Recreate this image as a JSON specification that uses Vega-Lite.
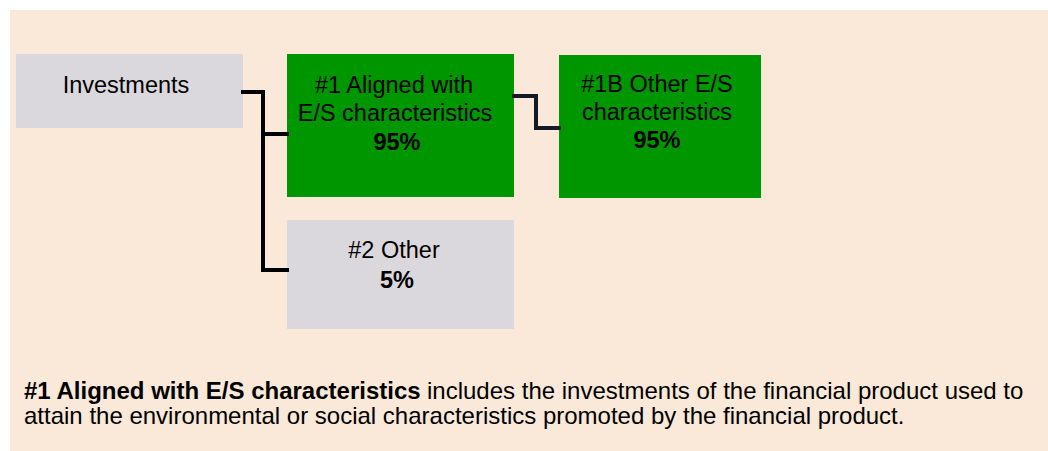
{
  "$schema": "https://vega.github.io/schema/vega-lite/v6.json",
  "width": 1048,
  "height": 451,
  "autosize": {"type": "none"},
  "padding": 0,
  "background": "#ffffff",
  "config": {"view": {"stroke": null}},
  "datasets": {
    "panel": [{"x1": 10, "x2": 1048, "y1": 10, "y2": 451}],
    "boxes": [
      {"box": "Investments", "kind": "other", "x1": 16, "x2": 243, "y1": 54, "y2": 128},
      {"box": "#1 Aligned", "kind": "aligned", "x1": 287, "x2": 514, "y1": 54, "y2": 197},
      {"box": "#1B Other E/S", "kind": "aligned", "x1": 559, "x2": 761, "y1": 55, "y2": 198},
      {"box": "#2 Other", "kind": "other", "x1": 287, "x2": 514, "y1": 220, "y2": 329}
    ],
    "links": [
      {"link": "a", "x1": 243, "y1": 92, "x2": 263, "y2": 92},
      {"link": "a", "x1": 263, "y1": 92, "x2": 263, "y2": 270},
      {"link": "a", "x1": 263, "y1": 134, "x2": 287, "y2": 134},
      {"link": "a", "x1": 263, "y1": 270, "x2": 287, "y2": 270},
      {"link": "b", "x1": 514, "y1": 96, "x2": 536, "y2": 96},
      {"link": "b", "x1": 536, "y1": 96, "x2": 536, "y2": 128},
      {"link": "b", "x1": 536, "y1": 128, "x2": 559, "y2": 128}
    ],
    "labels": [
      {"text": "Investments", "x": 126, "y": 86, "weight": "normal"},
      {"text": "#1 Aligned with", "x": 394, "y": 86, "weight": "normal"},
      {"text": "E/S characteristics", "x": 395, "y": 114, "weight": "normal"},
      {"text": "95%", "x": 397, "y": 143, "weight": "bold"},
      {"text": "#1B Other E/S", "x": 657, "y": 85, "weight": "normal"},
      {"text": "characteristics", "x": 657, "y": 113, "weight": "normal"},
      {"text": "95%", "x": 657, "y": 141, "weight": "bold"},
      {"text": "#2 Other", "x": 394, "y": 251, "weight": "normal"},
      {"text": "5%", "x": 397, "y": 281, "weight": "bold"}
    ],
    "note": [
      {"text": "#1 Aligned with E/S characteristics", "x": 24, "y": 392, "weight": "bold"},
      {"text": "includes the investments of the financial product used to", "x": 427, "y": 392, "weight": "normal"},
      {"text": "attain the environmental or social characteristics promoted by the financial product.", "x": 24, "y": 417, "weight": "normal"}
    ]
  },
  "layer": [
    {
      "data": {"name": "panel"},
      "mark": {"type": "rect", "color": "#FAE8D8"},
      "encoding": {
        "x": {"field": "x1", "type": "quantitative", "scale": {"domain": [0, 1048], "nice": false, "zero": false}, "axis": null},
        "x2": {"field": "x2"},
        "y": {"field": "y1", "type": "quantitative", "scale": {"domain": [0, 451], "nice": false, "zero": false, "reverse": true}, "axis": null},
        "y2": {"field": "y2"}
      }
    },
    {
      "data": {"name": "boxes"},
      "mark": {"type": "rect"},
      "encoding": {
        "x": {"field": "x1", "type": "quantitative"},
        "x2": {"field": "x2"},
        "y": {"field": "y1", "type": "quantitative"},
        "y2": {"field": "y2"},
        "color": {"field": "kind", "type": "nominal", "scale": {"domain": ["other", "aligned"], "range": ["#DBD8DD", "#009600"]}, "legend": null}
      }
    },
    {
      "data": {"name": "links"},
      "mark": {"type": "rule", "strokeWidth": 4, "strokeCap": "square"},
      "encoding": {
        "x": {"field": "x1", "type": "quantitative"},
        "x2": {"field": "x2"},
        "y": {"field": "y1", "type": "quantitative"},
        "y2": {"field": "y2"},
        "stroke": {"field": "link", "type": "nominal", "scale": {"domain": ["a", "b"], "range": ["#000000", "#131B29"]}, "legend": null}
      }
    },
    {
      "data": {"name": "labels"},
      "transform": [{"filter": "datum.weight === 'normal'"}],
      "mark": {"type": "text", "font": "Liberation Sans", "fontSize": 23.5, "align": "center", "baseline": "middle", "color": "#000000"},
      "encoding": {
        "x": {"field": "x", "type": "quantitative"},
        "y": {"field": "y", "type": "quantitative"},
        "text": {"field": "text"}
      }
    },
    {
      "data": {"name": "labels"},
      "transform": [{"filter": "datum.weight === 'bold'"}],
      "mark": {"type": "text", "font": "Liberation Sans", "fontSize": 23.5, "fontWeight": "bold", "align": "center", "baseline": "middle", "color": "#000000"},
      "encoding": {
        "x": {"field": "x", "type": "quantitative"},
        "y": {"field": "y", "type": "quantitative"},
        "text": {"field": "text"}
      }
    },
    {
      "data": {"name": "note"},
      "transform": [{"filter": "datum.weight === 'normal'"}],
      "mark": {"type": "text", "font": "Liberation Sans", "fontSize": 24, "align": "left", "baseline": "middle", "color": "#000000"},
      "encoding": {
        "x": {"field": "x", "type": "quantitative"},
        "y": {"field": "y", "type": "quantitative"},
        "text": {"field": "text"}
      }
    },
    {
      "data": {"name": "note"},
      "transform": [{"filter": "datum.weight === 'bold'"}],
      "mark": {"type": "text", "font": "Liberation Sans", "fontSize": 24, "fontWeight": "bold", "align": "left", "baseline": "middle", "color": "#000000"},
      "encoding": {
        "x": {"field": "x", "type": "quantitative"},
        "y": {"field": "y", "type": "quantitative"},
        "text": {"field": "text"}
      }
    }
  ]
}
